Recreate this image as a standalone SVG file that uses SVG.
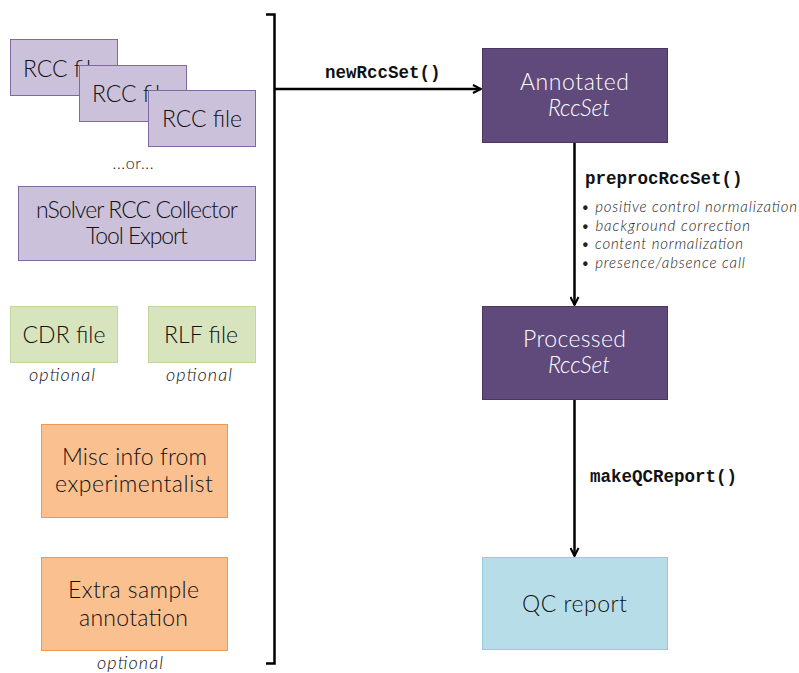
<svg xmlns="http://www.w3.org/2000/svg" width="799" height="673" viewBox="0 0 799 673">
<style>
.lbl{font-family:Lato,"Noto Sans",sans-serif;font-weight:300;font-size:23px;fill:#111;text-anchor:middle}
.wlbl{font-family:Lato,"Noto Sans",sans-serif;font-weight:300;font-size:23px;fill:#ffffff;text-anchor:middle}
.it{font-style:italic}
.code{font-family:"Liberation Mono",monospace;font-weight:bold;font-size:17.5px;fill:#111}
.note{font-family:Lato,"Noto Sans",sans-serif;font-weight:300;font-style:italic;font-size:18px;fill:#111;text-anchor:middle}
.bul{font-family:Lato,"Noto Sans",sans-serif;font-weight:300;font-style:italic;font-size:15px;fill:#222}
.rcc{fill:#ccc1da;stroke:#7f6aa0;stroke-width:1}
.green{fill:#d7e4bd;stroke:#c3d69b;stroke-width:1}
.orange{fill:#fac090;stroke:#f79646;stroke-width:1}
.dark{fill:#604a7b;stroke:#4a3860;stroke-width:1}
.qc{fill:#b7dee8;stroke:#93cddd;stroke-width:1}
.conn{stroke:#000;stroke-width:2.5;fill:none}
</style>
<defs>
<marker id="arr" viewBox="0 0 10 10" refX="9" refY="5" markerWidth="4" markerHeight="4" orient="auto" markerUnits="strokeWidth">
<path d="M1,1 L9,5 L1,9" fill="none" stroke="#000" stroke-width="2"/>
</marker>
</defs>
<rect width="799" height="673" fill="#fff"/>

<g id="rcc1"><rect class="rcc" x="10.5" y="39.5" width="107" height="56"/><text class="lbl" x="63" y="77" textLength="80">RCC file</text></g>
<g id="rcc2"><rect class="rcc" x="79.5" y="65.5" width="107" height="56"/><text class="lbl" x="132" y="102" textLength="80">RCC file</text></g>
<g id="rcc3"><rect class="rcc" x="148.5" y="90.5" width="107" height="56"/><text class="lbl" x="202" y="127" textLength="80">RCC file</text></g>
<text class="note" x="133" y="169" style="font-style:normal;font-size:16px" textLength="41">...or...</text>
<g id="nsolver"><rect class="rcc" x="18.5" y="186.5" width="237" height="74"/><text class="lbl" x="137" y="218" textLength="202">nSolver RCC Collector</text><text class="lbl" x="137" y="244" textLength="102">Tool Export</text></g>

<g id="cdr"><rect class="green" x="10.5" y="306.5" width="107" height="56"/><text class="lbl" x="64" y="343" textLength="83">CDR file</text><text class="note" x="62" y="381" textLength="66">optional</text></g>
<g id="rlf"><rect class="green" x="148.5" y="306.5" width="107" height="56"/><text class="lbl" x="201" y="343" textLength="74">RLF file</text><text class="note" x="199" y="381" textLength="66">optional</text></g>

<g id="misc"><rect class="orange" x="41.5" y="424.5" width="186" height="93"/><text class="lbl" x="134.5" y="465" textLength="145">Misc info from</text><text class="lbl" x="134" y="492" textLength="158">experimentalist</text></g>
<g id="extra"><rect class="orange" x="41.5" y="557.5" width="186" height="93"/><text class="lbl" x="133.5" y="598" textLength="131">Extra sample</text><text class="lbl" x="133.5" y="626" textLength="109">annotation</text><text class="note" x="130" y="669" textLength="66">optional</text></g>

<g id="annotated"><rect class="dark" x="482.5" y="48.5" width="185" height="94"/><text class="wlbl" x="574.5" y="90" textLength="109">Annotated</text><text class="wlbl it" x="579" y="116" textLength="62">RccSet</text></g>
<g id="processed"><rect class="dark" x="482.5" y="306.5" width="185" height="93"/><text class="wlbl" x="574.5" y="347" textLength="103">Processed</text><text class="wlbl it" x="579" y="373" textLength="62">RccSet</text></g>
<g id="qcreport"><rect class="qc" x="482.5" y="557.5" width="185" height="92"/><text class="lbl" x="574.5" y="612" textLength="105">QC report</text></g>

<g id="connectors">
<path class="conn" d="M266,14.5 H274.5 V663.5 H266"/>
<path class="conn" d="M275,89 H481" marker-end="url(#arr)"/>
<text class="code" x="325" y="78">newRccSet()</text>
<path class="conn" d="M574.5,143 V305" marker-end="url(#arr)"/>
<text class="code" x="585" y="184">preprocRccSet()</text>
<text class="bul" x="581" y="212" textLength="216">• positive control normalization</text>
<text class="bul" x="581" y="231" textLength="169">• background correction</text>
<text class="bul" x="581" y="249" textLength="162">• content normalization</text>
<text class="bul" x="581" y="268" textLength="164">• presence/absence call</text>
<path class="conn" d="M574.5,400 V556" marker-end="url(#arr)"/>
<text class="code" x="590" y="482">makeQCReport()</text>
</g>
</svg>
